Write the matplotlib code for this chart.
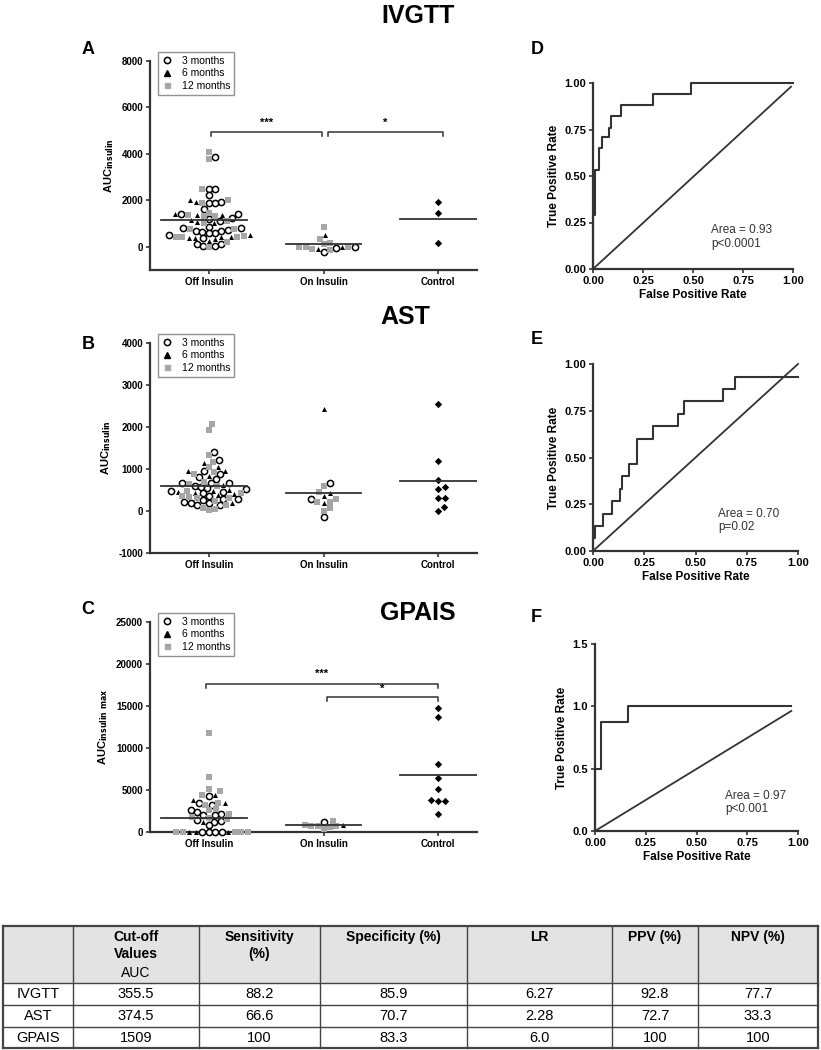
import numpy as np
import matplotlib
matplotlib.use("Agg")
import matplotlib.pyplot as plt
from matplotlib.lines import Line2D
from matplotlib.patches import Rectangle

plt.rcParams['font.family'] = ['Liberation Sans', 'DejaVu Sans']
plt.rcParams['axes.unicode_minus'] = False

groups = ['Off Insulin', 'On Insulin', 'Control']
timepoints = ['3 months', '6 months', '12 months']

# ---- IVGTT (panel A) ----
ivgtt_off_3m = [3870, 2500, 2500, 2230, 1940, 1870, 1870, 1640, 1400, 1400, 1260, 1190, 1110,
                860, 790, 790, 730, 690, 690, 640, 610, 590, 500, 360, 110, 40, 40, 110]
ivgtt_off_6m = [2010, 1940, 1400, 1370, 1370, 1140, 1070, 1010, 500, 400, 400, 370, 370, 330, 260]
ivgtt_off_12m = [4070, 3760, 2500, 2000, 1900, 1470, 1370, 1330, 1330, 1110, 1040, 760, 760,
                 470, 440, 440, 400, 190, -30]
ivgtt_on_3m = [-70, -240, 10]
ivgtt_on_6m = [0, 510, -100]
ivgtt_on_12m = [0, 0, 110, 330, 860, -140, 160, -100, 0]
ivgtt_ctrl = [1940, 1440, 160]
ivgtt_lines = [1150, 100, 1190]

# ---- AST (panel B) ----
ast_off_3m = [1410, 1212, 950, 873, 800, 760, 665, 665, 665, 600, 560, 520, 480, 450, 540,
              420, 277, 260, 210, 185, 185, 150, 150, 280, 350]
ast_off_6m = [1133, 1053, 950, 950, 840, 620, 500, 470, 400, 440, 380, 190, 460]
ast_off_12m = [2067, 1940, 1330, 1172, 1050, 935, 880, 590, 640, 420, 330, 470, 150, 65, 24,
               40, 350, 300, 250, 320, 700]
ast_on_3m = [657, 285, -150]
ast_on_6m = [2424, 420, 356, 198]
ast_on_12m = [602, 460, 277, 222, 222, 63, 10]
ast_ctrl = [2558, 1196, 737, 515, 578, 317, 317, 8, 103]
ast_lines = [594, 420, 705]

# ---- GPAIS (panel C) ----
gpais_off_3m = [4250, 3450, 3250, 2660, 2380, 2180, 1980, 2060, 1270, 1190, 1390, 790,
                0, 0, 0, 0]
gpais_off_6m = [4370, 3770, 3450, 1190, 0, 0, 0]
gpais_off_12m = [11830, 6550, 5160, 4880, 4370, 3180, 3400, 2600, 2200, 2700, 1700, 1800,
                 1500, 0, 0, 0, 0, 0]
gpais_on_3m = [1150]
gpais_on_6m = [790]
gpais_on_12m = [1310, 870, 670, 400, 700, 650, 750]
gpais_ctrl = [14800, 13700, 8060, 6430, 5160, 3650, 3650, 3770, 2100]
gpais_lines = [1630, 830, 6830]

# ---- ROC curves ----
roc_d_fpr = [0, 0, 0.01, 0.03, 0.045, 0.08, 0.09, 0.14, 0.30, 0.49, 1.0]
roc_d_tpr = [0, 0.29, 0.53, 0.65, 0.71, 0.76, 0.82, 0.88, 0.94, 1.0, 1.0]
roc_d_diag = [0, 0.99], [0, 0.98]
roc_d_text = 'Area = 0.93\np<0.0001'

roc_e_fpr = [0, 0, 0.01, 0.05, 0.095, 0.13, 0.14, 0.175, 0.215, 0.295, 0.415, 0.445, 0.632, 0.693, 1.0]
roc_e_tpr = [0, 0.067, 0.133, 0.2, 0.267, 0.333, 0.4, 0.467, 0.6, 0.667, 0.733, 0.8, 0.867, 0.933, 0.933]
roc_e_diag = [0, 1.0], [0, 1.0]
roc_e_text = 'Area = 0.70\np=0.02'

roc_f_fpr = [0, 0, 0.03, 0.165, 0.967]
roc_f_tpr = [0, 0.5, 0.875, 1.0, 1.0]
roc_f_diag = [0, 0.967], [0, 0.963]
roc_f_text = 'Area = 0.97\np<0.001'

# ---- table ----
table_header = ['', 'Cut-off\nValues', 'Sensitivity\n(%)', 'Specificity (%)', 'LR', 'PPV (%)', 'NPV (%)']
table_rows = ['IVGTT', 'AST', 'GPAIS']
table_cutoff = ['355.5', '374.5', '1509']
table_sens = ['88.2', '66.6', '100']
table_spec = ['85.9', '70.7', '83.3']
table_lr = ['6.27', '2.28', '6.0']
table_ppv = ['92.8', '72.7', '100']
table_npv = ['77.7', '33.3', '100']

DARK = '#333333'
GREY = '#a6a6a6'
W, H = 821, 1050

fig = plt.figure(figsize=(W / 100, H / 100), dpi=100)


def px_axes(l, t, r, b):
    return fig.add_axes([l / W, 1 - b / H, (r - l) / W, (b - t) / H])


def swarm(values, px_x, px_y, d=6.2):
    # simple greedy beeswarm, offsets returned in data x units
    values = np.asarray(values, float)
    offs = np.zeros(len(values))
    placed = []
    cands = [0.0]
    for k in range(1, 200):
        cands += [k * 0.5, -k * 0.5]
    for i in np.argsort(values, kind='stable'):
        y = values[i] * px_y
        for c in cands:
            if all((c - px) ** 2 + (y - py) ** 2 >= d * d for px, py in placed):
                break
        placed.append((c, y))
        offs[i] = c / px_x
    return offs


def dot_panel(ax, data, lines, ylim, yticks, ylabel):
    ax.set_xlim(-0.515, 2.34)
    ax.set_ylim(*ylim)
    pos = ax.get_position()
    px_x = pos.width * W / (2.34 + 0.515)
    px_y = pos.height * H / (ylim[1] - ylim[0])
    styles = [dict(marker='o', facecolors='white', edgecolors='black', linewidths=1.1, s=20),
              dict(marker='^', color='black', s=13, linewidths=0),
              dict(marker='s', color=GREY, s=13, linewidths=0)]
    for g in range(2):
        sets = data[g]
        vals = np.concatenate(sets)
        kind = np.concatenate([[k] * len(s) for k, s in enumerate(sets)])
        off = swarm(vals, px_x, px_y)
        for k in range(3):
            m = kind == k
            ax.scatter(g + off[m], vals[m], zorder=3, clip_on=False, **styles[k])
    ctrl = np.asarray(data[2], float)
    off = swarm(ctrl, px_x, px_y, d=7)
    ax.scatter(2 + off, ctrl, marker='D', color='black', s=14, linewidths=0, zorder=3, clip_on=False)
    half = [(-0.42, 0.33), (-0.33, 0.33), (-0.33, 0.34)]
    for g, v in enumerate(lines):
        ax.plot([g + half[g][0], g + half[g][1]], [v, v], color=DARK, lw=1.3, zorder=4)
    ax.set_yticks(yticks)
    ax.set_xticks(range(3))
    ax.set_xticklabels(groups, fontweight='bold', fontsize=7.5)
    for lbl in ax.get_yticklabels():
        lbl.set_fontweight('bold')
    for s in ['top', 'right']:
        ax.spines[s].set_visible(False)
    for s in ['left', 'bottom']:
        ax.spines[s].set_linewidth(1.6)
        ax.spines[s].set_color(DARK)
    ax.tick_params(length=3, width=1.2, labelsize=7, color=DARK, pad=2)
    ax.set_ylabel(ylabel, fontsize=8, fontweight='bold', labelpad=4)
    handles = [Line2D([], [], ls='none', marker='o', mfc='white', mec='black', mew=1.1, ms=4.5),
               Line2D([], [], ls='none', marker='^', color='black', ms=3.8),
               Line2D([], [], ls='none', marker='s', color=GREY, ms=3.6)]
    leg = ax.legend(handles, timepoints, loc='upper left', bbox_to_anchor=(0.024, 1.045),
                    fontsize=7.5, frameon=True, fancybox=False, borderpad=0.4,
                    handletextpad=0.9, labelspacing=0.25, handlelength=1.0, borderaxespad=0)
    leg.get_frame().set_edgecolor('#777777')
    leg.get_frame().set_linewidth(1.0)


def bracket(ax, x0, x1, y, drop, star, ystar):
    ax.plot([x0, x0, x1, x1], [y - drop, y, y, y - drop], color=DARK, lw=1.1, clip_on=False)
    ax.text((x0 + x1) / 2, ystar, star, ha='center', va='center', fontsize=8, fontweight='bold')


def roc_panel(ax, fpr, tpr, diag, txt, tx, ty, ylim, yticks, yfmt):
    ax.plot(fpr, tpr, drawstyle='steps-post', color=DARK, lw=1.5, clip_on=False)
    ax.plot(diag[0], diag[1], color=DARK, lw=1.3, clip_on=False)
    ax.set_xlim(0, 1)
    ax.set_ylim(*ylim)
    ax.set_xticks([0, 0.25, 0.5, 0.75, 1.0])
    ax.set_xticklabels(['%.2f' % v for v in [0, 0.25, 0.5, 0.75, 1.0]])
    ax.set_yticks(yticks)
    ax.set_yticklabels([yfmt % v for v in yticks])
    for lbl in ax.get_xticklabels() + ax.get_yticklabels():
        lbl.set_fontweight('bold')
    for s in ['top', 'right']:
        ax.spines[s].set_visible(False)
    for s in ['left', 'bottom']:
        ax.spines[s].set_linewidth(1.6)
        ax.spines[s].set_color(DARK)
    ax.tick_params(length=3, width=1.2, labelsize=8, color=DARK, pad=2)
    ax.set_xlabel('False Positive Rate', fontsize=8.5, fontweight='bold', labelpad=2)
    ax.set_ylabel('True Positive Rate', fontsize=8.5, fontweight='bold', labelpad=3)
    ax.text(tx, ty, txt, fontsize=8.5, color=DARK, va='top', linespacing=1.15)


# scatter panels
axA = px_axes(150, 61, 477, 270)
dot_panel(axA, [[ivgtt_off_3m, ivgtt_off_6m, ivgtt_off_12m],
                [ivgtt_on_3m, ivgtt_on_6m, ivgtt_on_12m], ivgtt_ctrl],
          ivgtt_lines, (-1000, 8000), [0, 2000, 4000, 6000, 8000], 'AUC$_{\\mathbf{insulin}}$')
bracket(axA, 0.02, 0.99, 4950, 180, '***', 5350)
bracket(axA, 1.04, 2.04, 4950, 180, '*', 5350)

axB = px_axes(150, 343, 477, 553)
dot_panel(axB, [[ast_off_3m, ast_off_6m, ast_off_12m],
                [ast_on_3m, ast_on_6m, ast_on_12m], ast_ctrl],
          ast_lines, (-1000, 4000), [-1000, 0, 1000, 2000, 3000, 4000], 'AUC$_{\\mathbf{insulin}}$')

axC = px_axes(150, 622, 477, 832)
dot_panel(axC, [[gpais_off_3m, gpais_off_6m, gpais_off_12m],
                [gpais_on_3m, gpais_on_6m, gpais_on_12m], gpais_ctrl],
          gpais_lines, (0, 25000), [0, 5000, 10000, 15000, 20000, 25000],
          'AUC$_{\\mathbf{insulin\\ max}}$')
bracket(axC, -0.03, 2.0, 17600, 450, '***', 18800)
bracket(axC, 1.03, 2.0, 16100, 450, '*', 17000)

# ROC panels
axD = px_axes(593, 83, 793, 269)
roc_panel(axD, roc_d_fpr, roc_d_tpr, roc_d_diag, roc_d_text, 0.59, 0.24,
          (0, 1), [0, 0.25, 0.5, 0.75, 1.0], '%.2f')
axE = px_axes(593, 364, 798, 551)
roc_panel(axE, roc_e_fpr, roc_e_tpr, roc_e_diag, roc_e_text, 0.61, 0.23,
          (0, 1), [0, 0.25, 0.5, 0.75, 1.0], '%.2f')
axF = px_axes(595, 644, 798, 831)
roc_panel(axF, roc_f_fpr, roc_f_tpr, roc_f_diag, roc_f_text, 0.64, 0.33,
          (0, 1.5), [0, 0.5, 1.0, 1.5], '%.1f')

# titles and panel letters
for txt, x, y in [('IVGTT', 418, 16), ('AST', 405, 317), ('GPAIS', 418, 613)]:
    fig.text(x / W, 1 - y / H, txt, fontsize=18, fontweight='bold', ha='center', va='center')
for txt, x, y in [('A', 88, 50), ('B', 88, 344), ('C', 88, 610),
                  ('D', 537, 50), ('E', 537, 340), ('F', 536, 617)]:
    fig.text(x / W, 1 - y / H, txt, fontsize=13, fontweight='bold', ha='center', va='center')

# table
axT = fig.add_axes([0, 0, 1, 1], zorder=-1)
axT.set_xlim(0, W)
axT.set_ylim(H, 0)
axT.axis('off')
col_x = [3, 73, 199, 320, 467, 612, 698, 818]
row_y = [926, 983, 1005, 1027, 1048]
axT.add_patch(Rectangle((col_x[0], row_y[0]), col_x[-1] - col_x[0], row_y[1] - row_y[0],
                        facecolor='#e3e3e3', edgecolor='none'))
for x in col_x:
    lw = 1.6 if x in (col_x[0], col_x[-1]) else 1.0
    axT.plot([x, x], [row_y[0], row_y[-1]], color='#444444', lw=lw)
for y in row_y:
    lw = 1.6 if y in (row_y[0], row_y[-1]) else 1.0
    axT.plot([col_x[0], col_x[-1]], [y, y], color='#444444', lw=lw)
tfont = ['Liberation Sans Narrow', 'Liberation Sans', 'DejaVu Sans']
for c, head in enumerate(table_header):
    cx = (col_x[c] + col_x[c + 1]) / 2
    axT.text(cx, row_y[0] + 4, head, ha='center', va='top', fontsize=10, fontweight='bold',
             family=tfont, linespacing=1.3)
axT.text((col_x[1] + col_x[2]) / 2, row_y[1] - 3, 'AUC', ha='center', va='bottom', fontsize=10,
         family=tfont)
cols = [table_rows, table_cutoff, table_sens, table_spec, table_lr, table_ppv, table_npv]
for c, col in enumerate(cols):
    cx = (col_x[c] + col_x[c + 1]) / 2
    for r, val in enumerate(col):
        cy = (row_y[r + 1] + row_y[r + 2]) / 2
        axT.text(cx, cy + 0.5, val, ha='center', va='center', fontsize=10.5, family=tfont)

fig.savefig('out.png', dpi=100)
